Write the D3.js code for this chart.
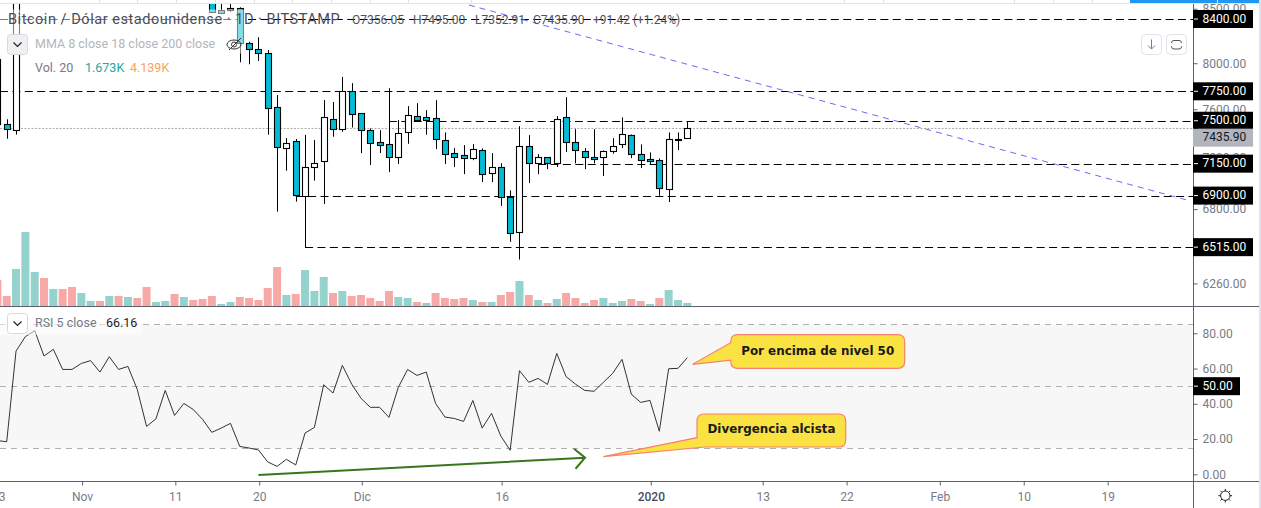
<!DOCTYPE html>
<html><head><meta charset="utf-8">
<script src="https://cdn.jsdelivr.net/npm/d3@7"></script>
<style>
html,body{margin:0;padding:0;background:#fff;overflow:hidden}
svg{display:block}
text{font-family:"Roboto",sans-serif}
</style></head><body>
<svg id="c" width="1261" height="508"></svg>
<script>
// ---- data ----
const firstDay = -38; // Oct 23 2019, relative to Nov 30 2019
const opens = [7471,7471,7423,
 null,null,null,null,null,null,null,null,null,null,null,null,null,null,null,null,null,null,null,null,
 8600,8485,8503,8501,8176,8121,8085,7613,7274,7331,6895,7121,7169,7512,7429,
 7750,7561,7419,7324,7305,7200,7403,7536,7528,7519,7337,7232,7216,7192,7256,7073,7120,6887,6625,7288,7157,7200,7152,7528,7321,7248,7200,7200,7248,7305,7378,7224,7184,7176,6949,7345,7356.05];
const closes = [8030,7429,8660,
 null,null,null,null,null,null,null,null,null,null,null,null,null,null,null,null,null,null,null,null,
 8466,8456,8485,8176,8121,8085,7605,7282,7314,6903,7121,7153,7529,7434,7750,
 7553,7419,7313,7302,7200,7395,7544,7508,7505,7345,7224,7205,7192,7264,7065,7120,6887,6618,7288,7152,7200,7152,7511,7321,7256,7200,7189,7248,7296,7386,7224,7176,7169,6956,7345,7337,7435.9];
const highs = [8030,7512,8800,
 null,null,null,null,null,null,null,null,null,null,null,null,null,null,null,null,null,null,null,null,
 8650,8560,8560,8510,8190,8231,8115,7718,7357,7349,7382,7341,7675,7658,7875,
 7821,7561,7436,7422,7777,7505,7623,7649,7589,7674,7403,7275,7299,7307,7272,7235,7154,6941,7455,7381,7226,7200,7539,7700,7430,7275,7430,7256,7356,7528,7386,7305,7240,7192,7403,7403,7495];
const lows = [7471,7351,7385,
 null,null,null,null,null,null,null,null,null,null,null,null,null,null,null,null,null,null,null,null,
 8460,8450,8466,8005,7987,8016,7385,6778,7094,6854,6514,7016,6836,7368,7409,
 7444,7235,7139,7235,7083,7147,7310,7491,7384,7267,7147,7123,7067,7178,7005,7005,6821,6554,6426,6997,7067,7107,7123,7243,7152,7107,7152,7052,7229,7275,7194,7115,7147,6899,6851,7259,7352.91];
const volumes = [14.3,5.5,20.35,40.7,18.7,15.4,9.35,9.35,10.45,7.15,2.75,2.75,5.5,5.5,4.95,4.4,10.45,2.2,2.75,6.6,4.95,3.3,3.85,5.5,1.1,2.2,4.95,4.4,3.3,9.9,21.45,6.05,6.6,19.8,8.25,15.95,7.15,8.25,
 5.5,6.05,4.4,2.75,8.25,4.95,4.4,2.2,1.65,7.15,4.4,3.85,4.4,3.3,2.2,2.2,6.05,7.7,13.75,6.05,3.3,1.65,3.85,7.15,4.4,1.65,3.3,4.4,1.65,2.75,3.85,2.75,1.1,4.4,8.8,3.3,1.673];
const volumeUp = [0,0,1,1,1,0,1,0,0,1,1,0,1,0,1,0,0,1,1,0,1,0,0,0,1,1,0,0,0,0,0,1,0,1,1,1,0,1,
 0,0,0,0,0,1,1,0,1,0,0,0,0,1,0,1,0,0,1,0,1,0,1,0,0,0,0,1,1,1,0,0,1,0,1,1,1];
const rsi = [19.1,18.5,69.9,78.1,81.5,67.1,70.9,59.5,59.5,62.9,64.5,58.0,66.7,59.5,61.2,48.2,27.2,31.4,47.6,33.4,40.2,36.8,31.2,23.8,26.2,28.9,15.8,14.9,13.8,7.0,4.5,8.5,5.3,23.4,26.6,50.8,46.1,61.8,
 51.2,43.1,38.0,38.0,32.3,49.3,59.5,56.1,58.0,40.2,32.5,31.7,30.0,41.9,26.2,34.6,21.7,13.6,58.8,52.2,54.4,51.0,68.6,55.4,51.2,47.6,47.1,52.2,57.3,65.2,45.4,40.8,41.9,24.4,59.9,60.1,66.16];
const levelPrices = [8400,7750,7500,7150,6900,6515];
const levelStartDays = [-38,-38,4,20,-6,-5];
const trendDays = [12.58,89.6];
const trendPrices = [8532,6866];
const lastPrice = 7435.9;
const priceTicks = [8500,8000,7600,7200,6800,6260];
const rsiTicks = [80,60,40,20,0];
const rsiBands = [85,50,15];
const timeTickDates = ["2019-10-23","2019-11-01","2019-11-11","2019-11-20","2019-12-01","2019-12-16","2020-01-01","2020-01-13","2020-01-22","2020-02-01","2020-02-10","2020-02-19"];
const timeTickLabels = ["23","Nov","11","20","Dic","16","2020","13","22","Feb","10","19"];
const arrowDays = [-10,25.03];
const arrowRsi = [-0.4,9.4];
const noteTexts = ["Por encima de nivel 50","Divergencia alcista"];
const noteDays = [36.58,26.99];
const noteRsi = [62.4,10];

// ---- layout ----
const W=1261,H=508, axisX=1193, sepY=306, timeY=481, rightEdge=1259;
const AX='#787b86', BLUE='#00bcd4';
const day0=Date.UTC(2019,10,30);
const dayDate=d=>new Date(day0+d*864e5);
const x=d3.scaleUtc().domain([dayDate(0),dayDate(36)]).range([351.67,687.3]);
const xd=d=>x(dayDate(d));
const y=d3.scaleLog().domain([8400,6260]).range([19,283]);
const yr=d3.scaleLinear().domain([0,80]).range([474.3,333.3]);
const vol=d3.scaleLinear().domain([0,40.7]).range([sepY,232]);

const svg=d3.select('#c');
const defs=svg.append('defs');
defs.append('clipPath').attr('id','cp').append('rect').attr('x',0).attr('y',4).attr('width',axisX).attr('height',sepY-4);
defs.append('clipPath').attr('id','cr').append('rect').attr('x',0).attr('y',sepY+1).attr('width',axisX).attr('height',timeY-sepY-1);

// toolbar strip
const topDiv=[99,137,176,215,254,292,331,370,408,471,844,883,1014,1053,1092];
svg.selectAll('.td').data(topDiv).enter().append('line').attr('x1',d=>d+.5).attr('x2',d=>d+.5).attr('y1',0).attr('y2',3).attr('stroke','#e0e3eb');
svg.append('rect').attr('x',1130).attr('y',0).attr('width',rightEdge-1130).attr('height',3).attr('fill','#2196f3');
svg.append('line').attr('x1',1217.5).attr('x2',1217.5).attr('y1',0).attr('y2',3).attr('stroke','#e0e3eb');
svg.append('line').attr('x1',0).attr('x2',rightEdge).attr('y1',3.5).attr('y2',3.5).attr('stroke','#e0e3eb');
svg.append('rect').attr('x',rightEdge).attr('y',0).attr('width',W-rightEdge).attr('height',H).attr('fill','#e0e3eb');

// price pane
const pane=svg.append('g').attr('clip-path','url(#cp)');
// volume
const idx=volumes.map((_,k)=>k+firstDay);
pane.selectAll('.v').data(volumes).enter().append('rect')
 .attr('x',(d,k)=>xd(idx[k])-4).attr('width',8)
 .attr('y',d=>vol(d)).attr('height',d=>sepY-vol(d))
 .attr('fill',(d,k)=>volumeUp[k]?'#94d3cd':'#f7a9a7');
// price line
pane.append('line').attr('x1',0).attr('x2',axisX).attr('y1',y(lastPrice)).attr('y2',y(lastPrice))
 .attr('stroke','#aaaaaa').attr('stroke-dasharray','2 1.5');
// levels
pane.selectAll('.l').data(levelPrices).enter().append('line')
 .attr('x1',(d,k)=>Math.max(0,xd(levelStartDays[k]))).attr('x2',axisX)
 .attr('y1',d=>Math.round(y(d))+.5).attr('y2',d=>Math.round(y(d))+.5)
 .attr('stroke','#000').attr('stroke-width',1).attr('stroke-dasharray','8 4.4');
// trend
pane.append('line').attr('x1',xd(trendDays[0])).attr('x2',xd(trendDays[1]))
 .attr('y1',y(trendPrices[0])).attr('y2',y(trendPrices[1]))
 .attr('stroke','#6a6af8').attr('stroke-dasharray','6 5').attr('stroke-width',1);
// candles
const cg=pane.append('g');
opens.forEach((o,k)=>{
  if(o===null) return;
  const cx=Math.round(xd(k+firstDay))+.5, c=closes[k];
  const top=y(Math.max(o,c)), bot=y(Math.min(o,c));
  cg.append('line').attr('x1',cx).attr('x2',cx).attr('y1',y(highs[k])).attr('y2',y(lows[k])).attr('stroke','#000');
  cg.append('rect').attr('x',cx-3).attr('width',6).attr('y',Math.round(top)+.5).attr('height',Math.max(1,Math.round(bot)-Math.round(top)))
    .attr('fill',c>=o?'#fff':BLUE).attr('stroke','#000').attr('stroke-width',1.1);
});

// rsi pane
const rp=svg.append('g').attr('clip-path','url(#cr)');
rp.append('rect').attr('x',0).attr('width',axisX-1).attr('y',yr(rsiBands[0])).attr('height',yr(rsiBands[2])-yr(rsiBands[0])).attr('fill','#f7f7f7');
rp.selectAll('.b').data(rsiBands).enter().append('line').attr('x1',0).attr('x2',axisX)
 .attr('y1',d=>Math.round(yr(d))+.5).attr('y2',d=>Math.round(yr(d))+.5)
 .attr('stroke','#b0b0b0').attr('stroke-dasharray','6 5');
rp.append('path').datum(rsi).attr('fill','none').attr('stroke','#333').attr('stroke-width',1)
 .attr('d',d3.line().x((d,k)=>xd(k+firstDay)).y(d=>yr(d)));

// arrow
const [ax0,ax1]=arrowDays.map(xd),[ay0,ay1]=arrowRsi.map(yr);
rp.append('path').attr('fill','none').attr('stroke','#38761d').attr('stroke-width',2)
 .attr('d',`M${ax0},${ay0}L${ax1},${ay1}M${ax1-11},${ay1-9}L${ax1},${ay1}L${ax1-9.5},${ay1+11}`);

// callouts
function callout(tipX,tipY,bx0,by0,bx1,by1,j0,j1){
  const r=7;
  return `M${tipX},${tipY}L${bx0},${j0}L${bx0},${by0+r}Q${bx0},${by0} ${bx0+r},${by0}L${bx1-r},${by0}Q${bx1},${by0} ${bx1},${by0+r}L${bx1},${by1-r}Q${bx1},${by1} ${bx1-r},${by1}L${bx0+r},${by1}`+
   (j1===null?`Q${bx0},${by1} ${bx0},${by1-r}L${bx0},${j0+17.5}Z`:`L${j1},${by1}Z`);
}
const tx0=xd(noteDays[0]),ty0=yr(noteRsi[0]),tx1=xd(noteDays[1]),ty1=yr(noteRsi[1]);
const notes=svg.append('g');
notes.append('path').attr('d',callout(tx0,ty0,tx0+38,ty0-29.6,tx0+212,ty0+4,ty0-21.6,null))
 .attr('fill','#f9e242').attr('stroke','#f98071').attr('stroke-width',1.2);
notes.append('path').attr('d',callout(tx1,ty1,tx1+93.7,ty1-42.7,tx1+242.4,ty1-9.7,ty1-19,tx1+101.7))
 .attr('fill','#f9e242').attr('stroke','#f98071').attr('stroke-width',1.2);
notes.append('text').attr('x',tx0+125).attr('y',ty0-13).attr('text-anchor','middle').attr('dominant-baseline','middle')
 .style('font-family','"DejaVu Sans"').style('font-weight','bold').style('font-size','11.9px').attr('fill','#1a1a1a').text(noteTexts[0]);
notes.append('text').attr('x',tx1+168.2).attr('y',ty1-27.5).attr('text-anchor','middle').attr('dominant-baseline','middle')
 .style('font-family','"DejaVu Sans"').style('font-weight','bold').style('font-size','11.9px').attr('fill','#1a1a1a').text(noteTexts[1]);

// frame lines
[sepY+.5,timeY+.5].forEach(v=>
  svg.append('line').attr('x1',0).attr('x2',rightEdge).attr('y1',v).attr('y2',v).attr('stroke','#5d606b'));
svg.append('line').attr('x1',axisX+.5).attr('x2',axisX+.5).attr('y1',4).attr('y2',H).attr('stroke','#5d606b');

// axes
function styleAxis(g){
  g.select('.domain').remove();
  g.selectAll('line').attr('stroke','#5d606b');
  g.selectAll('text').attr('fill',AX).style('font-size','12px').style('font-family','Roboto');
}
const f2=d3.format('.2f');
svg.append('g').attr('transform',`translate(${axisX+.5},0.4)`)
 .call(d3.axisRight(y).tickValues(priceTicks).tickFormat(f2).tickSize(4).tickPadding(5)).call(styleAxis);
svg.append('g').attr('transform',`translate(${axisX+.5},0)`)
 .call(d3.axisRight(yr).tickValues(rsiTicks).tickFormat(f2).tickSize(4).tickPadding(5)).call(styleAxis);
const tickDates=timeTickDates.map(s=>new Date(s+'T00:00:00Z'));
const tg=svg.append('g').attr('transform',`translate(0.8,${timeY+.5})`)
 .call(d3.axisBottom(x).tickValues(tickDates).tickFormat((d,k)=>timeTickLabels[k]).tickSize(4).tickPadding(7)).call(styleAxis);
tg.selectAll('text').filter((d,k)=>timeTickLabels[k]==='2020').attr('fill','#4a4d57').style('font-weight','500');

// axis value labels
function tag(val,scale,w,fill,col,dy){
  const cy=scale(val)+(dy||0);
  svg.append('rect').attr('x',axisX).attr('y',cy-9).attr('width',w).attr('height',18).attr('fill',fill);
  svg.append('line').attr('x1',axisX+1).attr('x2',axisX+5).attr('y1',scale(val)).attr('y2',scale(val)).attr('stroke',col);
  svg.append('text').attr('x',axisX+9.5).attr('y',cy+.5).attr('dominant-baseline','middle').attr('fill',col).style('font-size','12px').text(f2(val));
}
levelPrices.forEach(p=>tag(p,y,60,'#000','#fff'));
tag(lastPrice,y,60,'#b2b5be','#131722',9.2);
tag(50,yr,47,'#000','#fff');

// legend overlays
svg.append('rect').attr('x',0).attr('y',9.5).attr('width',245).attr('height',44).attr('fill','#fff').attr('opacity',.5);
svg.append('rect').attr('x',0).attr('y',314).attr('width',142).attr('height',21).attr('fill','#fff').attr('opacity',.5);
const T=(t,xx,yy,c,s)=>svg.append('text').attr('x',xx).attr('y',yy).attr('dominant-baseline','middle').attr('fill',c).style('font-size',(s||13)+'px').text(t);
T('Bitcoin / Dólar estadounidense · 1D · BITSTAMP',8,20.5,'#4a4d57',14.5).style('letter-spacing','0.54px');
T('O7356.05',352,20.5,'#50535e',12);
T('H7495.00',413,20.5,'#50535e',12);
T('L7352.91',475,20.5,'#50535e',12);
T('C7435.90',533,20.5,'#50535e',12);
T('+91.42 (+1.24%)',593,20.5,'#50535e',12);
T('MMA 8 close 18 close 200 close',35,44.5,'#b2b5be',12.5);
T('Vol. 20',35,69,'#787b86',12.5);
T('1.673K',85,69,'#26a69a',12.5);
T('4.139K',130,69,'#ff9f5a',12.5);
T('RSI 5 close',35,324,'#787b86',12.5);
T('66.16',106,324,'#222',12.5);

// buttons
function chevron(cx,cy){svg.append('path').attr('d',`M${cx-4},${cy-2}L${cx},${cy+2}L${cx+4},${cy-2}`).attr('fill','none').attr('stroke','#222').attr('stroke-width',1.2);}
svg.append('rect').attr('x',7.5).attr('y',34.5).attr('width',20).attr('height',20).attr('rx',3).attr('fill','#f0f0f3').attr('stroke','#d6d8e0');
chevron(17.5,44.5);
svg.append('rect').attr('x',7.5).attr('y',313.5).attr('width',20).attr('height',20).attr('rx',3).attr('fill','#fff').attr('stroke','#d6d8e0');
chevron(17.5,323.5);
// eye
const eye=svg.append('g').attr('fill','none').attr('stroke','#333').attr('stroke-width',1);
eye.append('ellipse').attr('cx',234).attr('cy',44.5).attr('rx',7).attr('ry',4.5);
eye.append('circle').attr('cx',234).attr('cy',44.5).attr('r',2.5);
eye.append('line').attr('x1',229).attr('x2',241).attr('y1',50).attr('y2',38);
// scale buttons
[1141.5,1166.5].forEach(a=>svg.append('rect').attr('x',a).attr('y',34.5).attr('width',20).attr('height',20).attr('rx',4).attr('fill','#fff').attr('stroke','#e0e3eb'));
svg.append('path').attr('d','M1151.5,39.5V49M1148,45.5L1151.5,49L1155,45.5').attr('fill','none').attr('stroke',AX);
svg.append('path').attr('d','M1174,40.5H1179Q1181.5,40.5 1181.5,43M1181.5,46V46.5Q1181.5,49 1179,49H1174Q1171.5,49 1171.5,46.5V46M1171.5,43Q1171.5,40.5 1174,40.5').attr('fill','none').attr('stroke','#555');
// sun icon
const gear=svg.append('g').attr('transform','translate(1225.3,495.7)').attr('stroke','#222').attr('fill','none');
gear.append('circle').attr('r',4.7);
d3.range(8).forEach(k=>{const a=k*Math.PI/4;gear.append('line').attr('x1',4.7*Math.cos(a)).attr('y1',4.7*Math.sin(a)).attr('x2',6.8*Math.cos(a)).attr('y2',6.8*Math.sin(a));});
</script>
</body></html>
